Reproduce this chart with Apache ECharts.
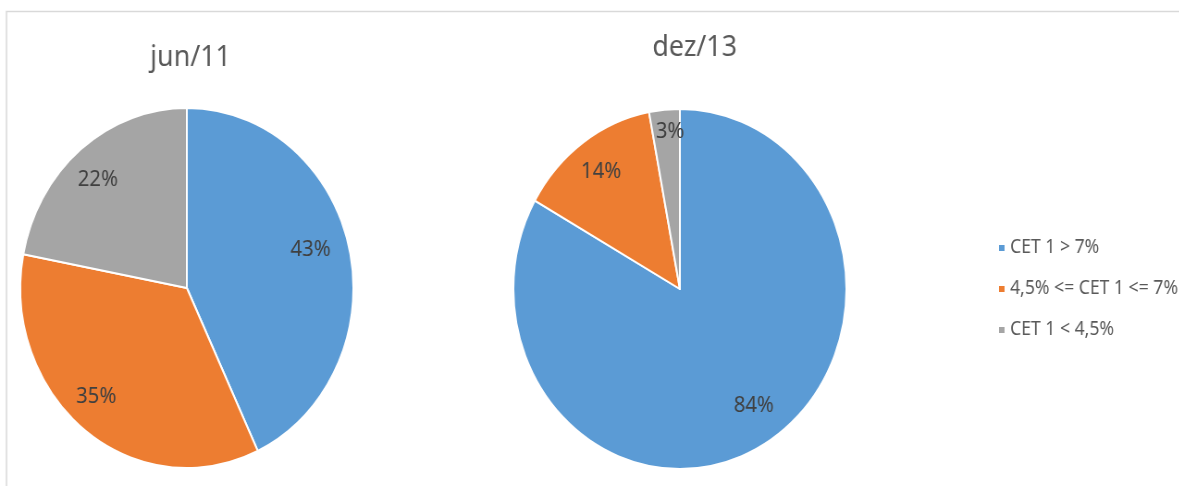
<!DOCTYPE html>
<html>
<head>
<meta charset="utf-8">
<script src="https://cdn.jsdelivr.net/npm/echarts@6/dist/echarts.min.js"></script>
<style>
  html, body { margin: 0; padding: 0; background: #ffffff; overflow: hidden; }
  #wrap { width: 1179px; height: 486px; overflow: hidden; position: relative; }
  /* the chart is laid out wide and then narrowed horizontally */
  #chart { width: 1300px; height: 486px; transform: scaleX(0.925); transform-origin: 0 0; }
</style>
</head>
<body>
<div id="wrap"><div id="chart"></div></div>
<script>
// CET 1 capital ratio bands
const categories = ['CET 1 > 7%', '4,5% <= CET 1 <= 7%', 'CET 1 < 4,5%'];
const periods = ['jun/11', 'dez/13'];
const sharesJun11 = [43, 35, 22];
const sharesDez13 = [84, 14, 3];

// label nudges from the default inside position, per slice
const labelShiftJun11 = [[43, -18], [-41, 35], [-37, -37]];
const labelShiftDez13 = [[33, 36], [-31, -42], [-2, -65]];

const colors = ['#5B9BD5', '#ED7D31', '#A5A5A5'];
const fontFamily = '"Noto Sans", "Open Sans", sans-serif';

function pieSeries(values, center, shifts) {
  return {
    type: 'pie',
    center: center,
    radius: [0, 180],
    startAngle: 90,
    clockwise: true,
    avoidLabelOverlap: false,
    silent: true,
    itemStyle: { borderColor: '#ffffff', borderWidth: 2 },
    label: {
      show: true,
      position: 'inside',
      formatter: p => p.value + '%',
      color: '#404040',
      fontSize: 22,
      fontFamily: fontFamily
    },
    labelLine: { show: false },
    labelLayout: p => ({ dx: shifts[p.dataIndex][0], dy: shifts[p.dataIndex][1] }),
    emphasis: { disabled: true },
    data: categories.map((name, i) => ({ name: name, value: values[i] }))
  };
}

const chart = echarts.init(document.getElementById('chart'));
chart.setOption({
  animation: false,
  color: colors,
  title: [
    { text: periods[0], left: 201, top: 38, textAlign: 'center',
      textStyle: { color: '#595959', fontSize: 29, fontWeight: 'normal', fontFamily: fontFamily } },
    { text: periods[1], left: 746, top: 28, textAlign: 'center',
      textStyle: { color: '#595959', fontSize: 29, fontWeight: 'normal', fontFamily: fontFamily } }
  ],
  legend: {
    orient: 'vertical',
    left: 1073,
    top: 232,
    icon: 'rect',
    itemWidth: 8,
    itemHeight: 8,
    itemGap: 19,
    selectedMode: false,
    data: categories,
    textStyle: { color: '#595959', fontSize: 19, lineHeight: 22, fontFamily: fontFamily }
  },
  graphic: [{
    type: 'rect',
    silent: true,
    shape: { x: 7, y: 11.5, width: 1400, height: 600 },
    style: { fill: 'none', stroke: '#d9d9d9', lineWidth: 1.5 }
  }],
  series: [
    pieSeries(sharesJun11, [202, 288], labelShiftJun11),
    pieSeries(sharesDez13, [735, 289], labelShiftDez13)
  ]
});
</script>
</body>
</html>
